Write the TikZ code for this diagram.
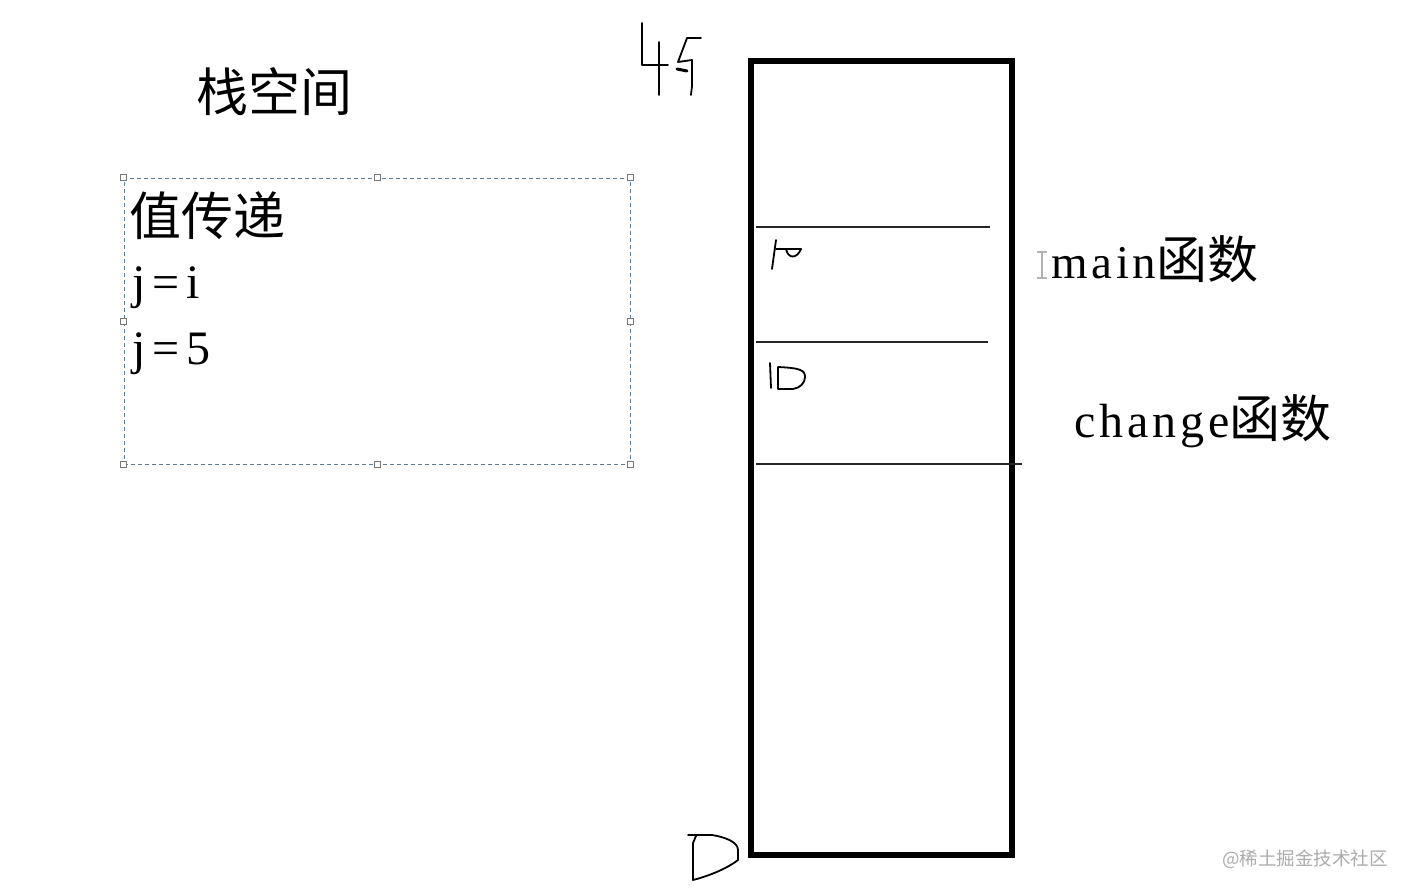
\documentclass[tikz,border=0pt]{standalone}
\usepackage{fontspec}
\setmainfont{Liberation Serif}
\newfontfamily\cjk{Noto Sans CJK SC}
\newfontfamily\lat[LetterSpace=8]{Liberation Serif}
\newfontfamily\latw[LetterSpace=14]{Liberation Serif}
\definecolor{dashblue}{RGB}{95,125,150}
\definecolor{handlegray}{RGB}{120,120,120}
\begin{document}
\begin{tikzpicture}[x=1pt,y=-1pt,
  hand/.style={line width=1.8pt, black, line cap=round, line join=round},
  divider/.style={line width=1.4pt, black!85},
  txt/.style={inner sep=0pt, anchor=base west},
  handle/.style={draw=handlegray, fill=white, minimum size=6pt, inner sep=0pt, line width=0.8pt},
  big/.style={font=\fontsize{52}{52}\selectfont}]
\useasboundingbox[fill=white] (0,0) rectangle (1408,894);

% title
\node[txt, big] (title) at (196,111) {\cjk 栈空间};

% dashed text box
\node[draw=dashblue, dash pattern=on 4pt off 3pt, line width=1pt,
      minimum width=506pt, minimum height=286pt, inner sep=0pt] (vbox) at (377,321) {};
\foreach \a [count=\i] in {north west,north,north east,west,east,south west,south,south east}
  \node[handle] (h\i) at (vbox.\a) {};
\node[txt, big] (vt) at (129,235) {\cjk 值传递};
\node[txt, font=\fontsize{48}{48}\selectfont] (ji) at (132,298) {\latw j=i};
\node[txt, font=\fontsize{48}{48}\selectfont] (j5) at (132,364) {\latw j=5};

% stack rectangle
\node[draw, line width=6pt, minimum width=261pt, minimum height=794pt, inner sep=0pt] (stack) at (881.5,458) {};
\coordinate (d1l) at (756,227); \coordinate (d1r) at (990,227);
\coordinate (d2l) at (756,342); \coordinate (d2r) at (988,342);
\coordinate (d3l) at (756,464); \coordinate (d3r) at (1022,464);
\draw[divider] (d1l) -- (d1r);
\draw[divider] (d2l) -- (d2r);
\draw[divider] (d3l) -- (d3r);

% labels on the right
\draw[line width=2pt, gray!60] (1037,252) -- (1047,252) (1042,252) -- (1042,278) (1037,278) -- (1047,278);
\node[txt, font=\fontsize{47}{47}\selectfont] (mainf) at (1051,278) {\lat main\fontsize{51}{51}\selectfont\cjk 函数};
\node[txt, font=\fontsize{48}{48}\selectfont] (changef) at (1074,437) {\lat change\fontsize{51}{51}\selectfont\cjk 函数};

% handwritten "45"
\draw[hand] (642,23) -- (642,65) -- (668,65);
\draw[hand] (659,42) -- (659,95);
\draw[hand] (701,38) -- (687,38) -- (678,62) -- (692,60) -- (692,86) -- (691,95);
\draw[hand, line width=3pt] (677,69) -- (687,71);

% handwritten "10" (upper)
\draw[hand] (776,240) -- (772,269);
\draw[hand] (776,249) -- (801,249);
\draw[hand] (786,249) .. controls (788,259) and (797,259) .. (801,249);

% handwritten "10" (lower)
\draw[hand] (770,363) -- (771,388);
\draw[hand] (778,367) -- (778,389) -- (793,389) .. controls (800,388) and (805,383) .. (805,377)
  .. controls (805,370) and (800,368) .. (778,367);

% handwritten "D" at the bottom
\draw[hand] (688,835) -- (712,835) .. controls (725,837) and (738,842) .. (738,850) -- (738,860)
  .. controls (725,870) and (705,877) .. (693,880) -- (693,843) -- (696,836);

% watermark
\node[txt, text=gray!65, font=\fontsize{18.5}{18.5}\selectfont] (wm) at (1222,865) {\cjk @稀土掘金技术社区};
\end{tikzpicture}
\end{document}
